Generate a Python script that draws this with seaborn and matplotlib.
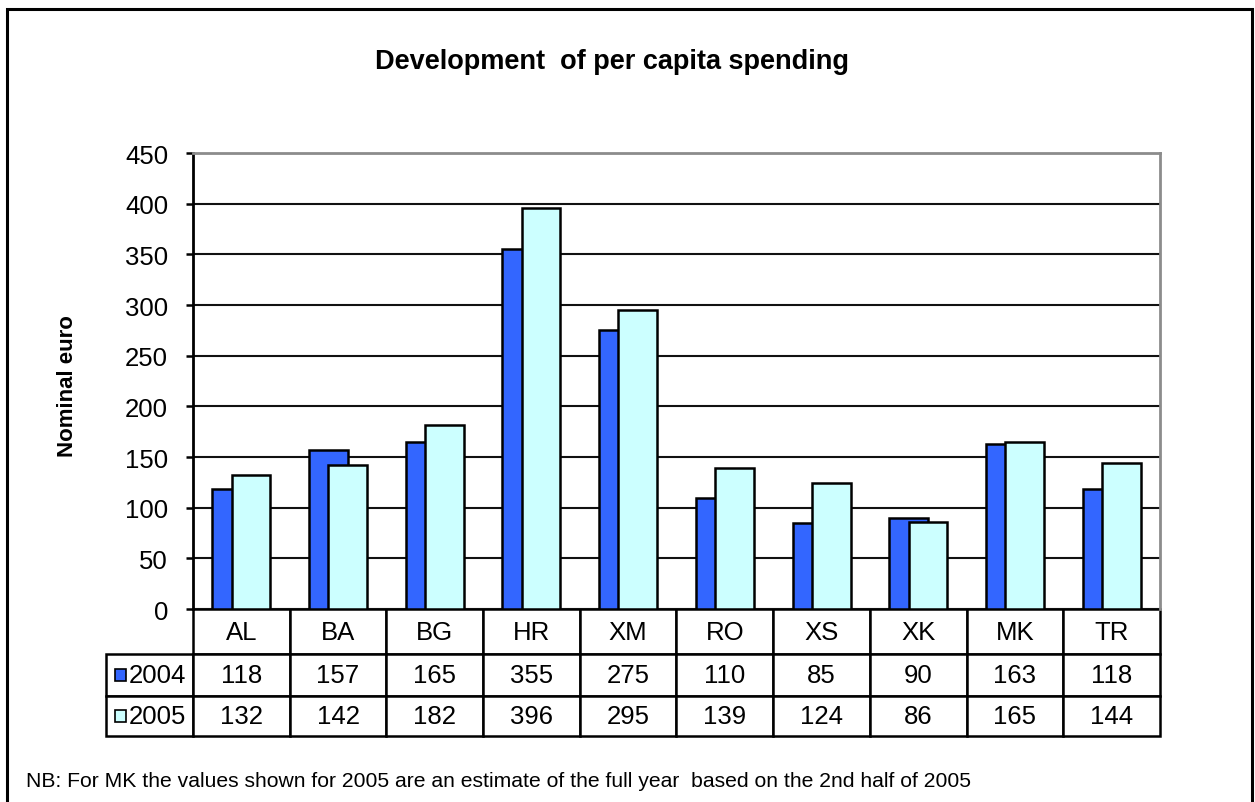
import numpy as np
import pandas as pd
import matplotlib
matplotlib.use("Agg")
import matplotlib.pyplot as plt
from matplotlib.patches import Rectangle
import seaborn as sns

# Data
countries = ["AL", "BA", "BG", "HR", "XM", "RO", "XS", "XK", "MK", "TR"]
years = ["2004", "2005"]
spend_2004 = [118, 157, 165, 355, 275, 110, 85, 90, 163, 118]
spend_2005 = [132, 142, 182, 396, 295, 139, 124, 86, 165, 144]
y_ticks = [0, 50, 100, 150, 200, 250, 300, 350, 400, 450]

title = "Development  of per capita spending"
y_label = "Nominal euro"
footnote = ("NB: For MK the values shown for 2005 are an estimate of the full year  "
            "based on the 2nd half of 2005")

sns.set_theme(style="white")
plt.rcParams["font.family"] = ["Liberation Sans", "DejaVu Sans"]

W, H = 1255, 803
fig = plt.figure(figsize=(W / 100, H / 100), dpi=100)
fig.patch.set_facecolor("white")

# plot area in pixels
px_left, px_right, px_top, px_bottom = 193, 1160, 154, 610
ax = fig.add_axes([px_left / W, 1 - px_bottom / H,
                   (px_right - px_left) / W, (px_bottom - px_top) / H])
ax.set_facecolor("white")
axw = px_right - px_left
axh = px_bottom - px_top

dark = "#3366FF"
light = "#CCFFFF"
bar_w = 0.40
shift = 0.10
fs = 18.5

pos = np.arange(len(countries))
df04 = pd.DataFrame({"pos": pos - shift, "value": spend_2004})
df05 = pd.DataFrame({"pos": pos + shift, "value": spend_2005})

sns.barplot(data=df04, x="pos", y="value", native_scale=True, width=bar_w,
            color=dark, saturation=1, edgecolor="black", linewidth=1.8,
            errorbar=None, ax=ax, zorder=3)
sns.barplot(data=df05, x="pos", y="value", native_scale=True, width=bar_w,
            color=light, saturation=1, edgecolor="black", linewidth=1.8,
            errorbar=None, ax=ax, zorder=3)

ax.set_xlim(-0.5, len(countries) - 0.5)
ax.set_ylim(0, 450)
ax.set_yticks(y_ticks)
ax.set_yticklabels([str(t) for t in y_ticks], fontsize=fs, color="black")
ax.set_xticks([])
ax.set_xlabel("")
ax.set_ylabel(y_label, fontsize=16, fontweight="bold", color="black")
ax.yaxis.set_label_coords((78 - px_left) / axw, (px_bottom - 386) / axh)

ax.set_axisbelow(True)
ax.yaxis.grid(True, color="#111111", linewidth=1.5)
ax.xaxis.grid(False)
ax.tick_params(axis="y", which="major", direction="out", length=5, width=1.8,
               color="black", pad=13, left=True)

for side in ("top", "right"):
    ax.spines[side].set_color("#8c8c8c")
    ax.spines[side].set_linewidth(2)
ax.spines["left"].set_color("black")
ax.spines["left"].set_linewidth(2)
ax.spines["bottom"].set_visible(False)

# Data table below the plot area
tbl_left = 106
tbl_bottom = 737
label_w = px_left - tbl_left
cell_w = axw / len(countries)

cell_text = [[""] + countries,
             [""] + [str(v) for v in spend_2004],
             [""] + [str(v) for v in spend_2005]]
col_widths = [label_w / axw] + [cell_w / axw] * len(countries)
table = ax.table(cellText=cell_text, colWidths=col_widths, cellLoc="center",
                 bbox=[(tbl_left - px_left) / axw, (px_bottom - tbl_bottom) / axh,
                       (px_right - tbl_left) / axw, (tbl_bottom - px_bottom) / axh])
table.auto_set_font_size(False)
row_heights = [45, 42, 40]
for (r, c), cell in table.get_celld().items():
    cell.set_height(row_heights[r])
    cell.set_linewidth(1.8)
    cell.set_edgecolor("black")
    cell.get_text().set_fontsize(fs)
    cell.get_text().set_color("black")
    if r == 0 and c == 0:
        cell.visible_edges = ""
table.set_clip_on(False)

# Legend keys inside the row-label cells
row_centers = [676, 717]
for yr, col, yc in zip(years, [dark, light], row_centers):
    ax.add_patch(Rectangle(((115 - px_left) / axw, (px_bottom - yc - 6) / axh),
                           11 / axw, 12 / axh, transform=ax.transAxes,
                           facecolor=col, edgecolor="black", linewidth=1.2,
                           clip_on=False, zorder=5))
    ax.text((129 - px_left) / axw, (px_bottom - yc) / axh, yr,
            transform=ax.transAxes, ha="left", va="center", fontsize=fs,
            color="black", clip_on=False, zorder=5)

# Title and footnote
fig.text(612 / W, 1 - 62 / H, title, ha="center", va="center",
         fontsize=19.5, fontweight="bold", color="black")
fig.text(26 / W, 1 - 782 / H, footnote, ha="left", va="center",
         fontsize=15.2, color="black")

# Outer frame of the chart area
fig.add_artist(Rectangle((7 / W, -0.05), (1252 - 7) / W, (1 - 10 / H) + 0.05,
                         transform=fig.transFigure, fill=False,
                         edgecolor="black", linewidth=2.2))

fig.savefig("out.png", dpi=100, facecolor="white")
